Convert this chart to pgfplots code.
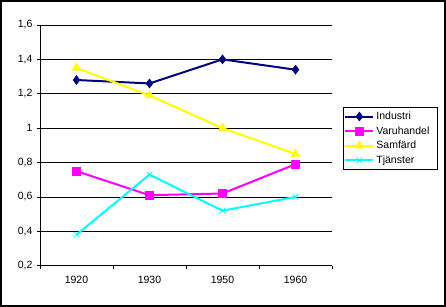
\documentclass[border=0pt]{standalone}
\usepackage{fontspec}
\setmainfont{Liberation Sans}
\usepackage{pgfplots}
\pgfplotsset{compat=1.18}
\definecolor{cInd}{RGB}{0,0,128}
\definecolor{cVar}{RGB}{255,0,255}
\definecolor{cSam}{RGB}{255,255,0}
\definecolor{cTja}{RGB}{0,255,255}
\begin{document}
\begin{tikzpicture}[x=1pt,y=1pt]
\draw[line width=2pt] (-39,-40.3) rectangle (405,264.7);
\begin{axis}[
  at={(0,0)}, anchor=south west,
  scale only axis, width=292pt, height=240.7pt,
  xmin=-0.5, xmax=3.5, ymin=0.2, ymax=1.6,
  xtick={0,1,2,3}, xticklabels={1920,1930,1950,1960},
  major x tick style={draw=none},
  minor xtick={-0.5,0.5,1.5,2.5,3.5},
  minor tick length=3pt,
  ytick={0.2,0.4,...,1.6},
  major tick length=3pt,
  tick align=outside,
  axis lines*=left,
  axis line style={line width=0.8pt},
  tick style={black, line width=0.8pt},
  ymajorgrids, major grid style={black, line width=0.8pt},
  /pgf/number format/use comma,
  /pgf/number format/assume math mode=true,
  tick label style={font=\fontsize{10.5}{12}\selectfont},
  xticklabel style={yshift=-4pt},
  yticklabel style={xshift=-1pt},
  clip=false,
  legend style={at={(rel axis cs:1.0377,0.659)}, anchor=north west,
    draw=black, line width=0.8pt, font=\fontsize{10.5}{12}\selectfont,
    inner xsep=1pt, inner ysep=2.5pt, row sep=1.5pt, text width=58pt},
  legend cell align=left,
  legend image code/.code={\draw[mark repeat=2,mark phase=2] plot coordinates {(0pt,0pt) (14pt,0pt) (28pt,0pt)};},
]
\addplot[cInd, line width=2pt, mark=diamond*, mark size=4.5pt, mark options={line width=0.5pt}]
  coordinates {(0,1.28) (1,1.26) (2,1.40) (3,1.34)};
\addlegendentry{Industri}
\addplot[cVar, line width=2pt, mark=square*, mark size=3.8pt, mark options={line width=0.5pt}]
  coordinates {(0,0.75) (1,0.61) (2,0.62) (3,0.79)};
\addlegendentry{Varuhandel}
\addplot[cSam, line width=2pt, mark=triangle*, mark size=5pt, mark options={line width=0.5pt}]
  coordinates {(0,1.35) (1,1.19) (2,1.00) (3,0.85)};
\addlegendentry{Samf\"ard}
\addplot[cTja, line width=2pt, mark=x, mark size=4pt, mark options={line width=0.7pt}]
  coordinates {(0,0.38) (1,0.73) (2,0.52) (3,0.60)};
\addlegendentry{Tj\"anster}
\end{axis}
\end{tikzpicture}
\end{document}
